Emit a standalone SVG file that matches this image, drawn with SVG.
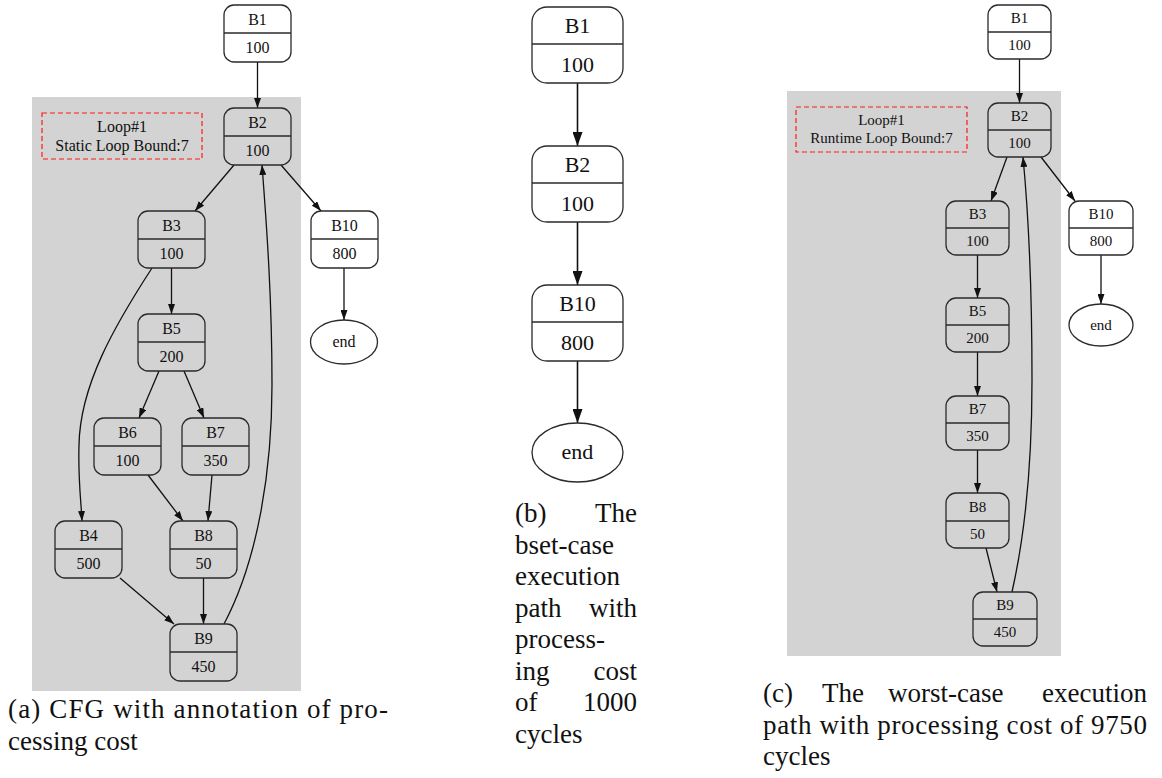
<svg xmlns="http://www.w3.org/2000/svg" width="1162" height="778" viewBox="0 0 1162 778">
  <style>
    .bg { fill: #ffffff; }
    .cluster { fill: #d3d3d3; }
    .box { fill: #ffffff; stroke: #2a2a2a; stroke-width: 1.3; }
    .box.in { fill: #d3d3d3; }
    .div { stroke: #2a2a2a; stroke-width: 1.3; }
    .lbl { font-family: "Liberation Serif", "Times New Roman", serif; fill: #111; text-anchor: middle; }
    .fa { font-size: 16px; }
    .fb { font-size: 22px; }
    .fc { font-size: 15px; }
    .note { fill: none; stroke: #ff1a1a; stroke-width: 1.2; stroke-dasharray: 5 3; }
    .edge { fill: none; stroke: #111; stroke-width: 1.3; }
    .edge.s { marker-end: url(#arrS); }
    .edge.l { stroke-width: 1.6; marker-end: url(#arrL); }
    .cap { font-family: "Liberation Serif", "Times New Roman", serif; font-size: 27px; fill: #111; }
  </style>
  <defs>
    <marker id="arrS" viewBox="0 0 10 7" refX="10" refY="3.5" markerWidth="10" markerHeight="7" markerUnits="userSpaceOnUse" orient="auto">
      <path d="M0,0 L10,3.5 L0,7 z" fill="#111"/>
    </marker>
    <marker id="arrL" viewBox="0 0 14 10" refX="14" refY="5" markerWidth="14" markerHeight="10" markerUnits="userSpaceOnUse" orient="auto">
      <path d="M0,0 L14,5 L0,10 z" fill="#111"/>
    </marker>
  </defs>

  <rect class="bg" x="0" y="0" width="1162" height="778"/>

  <!-- (a) full control-flow graph -->
  <g id="a-cluster">
    <rect class="cluster" x="32" y="97" width="269" height="594"/>
  </g>
  <g id="a-loop-note">
    <rect class="note" x="42" y="113" width="160" height="46"/>
    <text class="lbl fa" x="122" y="132">Loop#1</text>
    <text class="lbl fa" x="122" y="151">Static Loop Bound:7</text>
  </g>

  <g id="a-edges">
    <path class="edge s" d="M257.5,62 L257.5,108"/>
    <path class="edge s" d="M234,165 L195,211"/>
    <path class="edge s" d="M281,165 L321,211"/>
    <path class="edge s" d="M171.5,268 L171.5,314"/>
    <path class="edge s" d="M152,268 C115,325 80,385 79,445 C78,480 81,500 82,521"/>
    <path class="edge s" d="M159,371 L139,418"/>
    <path class="edge s" d="M184,371 L204,418"/>
    <path class="edge s" d="M148,475 L183,521"/>
    <path class="edge s" d="M212,475 L208,521"/>
    <path class="edge s" d="M120,578 L174,624"/>
    <path class="edge s" d="M203.5,578 L203.5,624"/>
    <path class="edge s" d="M224,624 C258,560 272,470 272,385 C272,300 267,230 262,165"/>
    <path class="edge s" d="M344,268 L344,320"/>
  </g>

  <g id="a-B1"><rect class="box" x="224" y="5" width="67" height="57" rx="10"/><line class="div" x1="224" y1="33" x2="291" y2="33"/><text class="lbl fa" x="257.5" y="25">B1</text><text class="lbl fa" x="257.5" y="53">100</text></g>
  <g id="a-B2"><rect class="box in" x="224" y="108" width="67" height="57" rx="10"/><line class="div" x1="224" y1="136" x2="291" y2="136"/><text class="lbl fa" x="257.5" y="128">B2</text><text class="lbl fa" x="257.5" y="156">100</text></g>
  <g id="a-B3"><rect class="box in" x="138" y="211" width="67" height="57" rx="10"/><line class="div" x1="138" y1="239" x2="205" y2="239"/><text class="lbl fa" x="171.5" y="231">B3</text><text class="lbl fa" x="171.5" y="259">100</text></g>
  <g id="a-B10"><rect class="box" x="311" y="211" width="67" height="57" rx="10"/><line class="div" x1="311" y1="239" x2="378" y2="239"/><text class="lbl fa" x="344.5" y="231">B10</text><text class="lbl fa" x="344.5" y="259">800</text></g>
  <g id="a-end"><ellipse class="box" cx="344" cy="342" rx="33.5" ry="22"/><text class="lbl fa" x="344" y="347">end</text></g>
  <g id="a-B5"><rect class="box in" x="138" y="314" width="67" height="57" rx="10"/><line class="div" x1="138" y1="342" x2="205" y2="342"/><text class="lbl fa" x="171.5" y="334">B5</text><text class="lbl fa" x="171.5" y="362">200</text></g>
  <g id="a-B6"><rect class="box in" x="94" y="418" width="67" height="57" rx="10"/><line class="div" x1="94" y1="446" x2="161" y2="446"/><text class="lbl fa" x="127.5" y="438">B6</text><text class="lbl fa" x="127.5" y="466">100</text></g>
  <g id="a-B7"><rect class="box in" x="182" y="418" width="67" height="57" rx="10"/><line class="div" x1="182" y1="446" x2="249" y2="446"/><text class="lbl fa" x="215.5" y="438">B7</text><text class="lbl fa" x="215.5" y="466">350</text></g>
  <g id="a-B4"><rect class="box in" x="55" y="521" width="67" height="57" rx="10"/><line class="div" x1="55" y1="549" x2="122" y2="549"/><text class="lbl fa" x="88.5" y="541">B4</text><text class="lbl fa" x="88.5" y="569">500</text></g>
  <g id="a-B8"><rect class="box in" x="170" y="521" width="67" height="57" rx="10"/><line class="div" x1="170" y1="549" x2="237" y2="549"/><text class="lbl fa" x="203.5" y="541">B8</text><text class="lbl fa" x="203.5" y="569">50</text></g>
  <g id="a-B9"><rect class="box in" x="170" y="624" width="67" height="57" rx="10"/><line class="div" x1="170" y1="652" x2="237" y2="652"/><text class="lbl fa" x="203.5" y="644">B9</text><text class="lbl fa" x="203.5" y="672">450</text></g>

  <g id="a-caption">
    <text class="cap" x="8" y="718" textLength="380" lengthAdjust="spacing">(a) CFG with annotation of pro-</text>
    <text class="cap" x="8" y="750">cessing cost</text>
  </g>

  <!-- (b) best-case path -->
  <g id="b-edges">
    <path class="edge l" d="M577.5,83 L577.5,146"/>
    <path class="edge l" d="M577.5,222 L577.5,285"/>
    <path class="edge l" d="M577.5,361 L577.5,423"/>
  </g>
  <g id="b-B1"><rect class="box" x="532" y="7" width="91" height="76" rx="15"/><line class="div" x1="532" y1="44" x2="623" y2="44"/><text class="lbl fb" x="577.5" y="33">B1</text><text class="lbl fb" x="577.5" y="72">100</text></g>
  <g id="b-B2"><rect class="box" x="532" y="146" width="91" height="76" rx="15"/><line class="div" x1="532" y1="183" x2="623" y2="183"/><text class="lbl fb" x="577.5" y="172">B2</text><text class="lbl fb" x="577.5" y="211">100</text></g>
  <g id="b-B10"><rect class="box" x="532" y="285" width="91" height="76" rx="15"/><line class="div" x1="532" y1="322" x2="623" y2="322"/><text class="lbl fb" x="577.5" y="311">B10</text><text class="lbl fb" x="577.5" y="350">800</text></g>
  <g id="b-end"><ellipse class="box" cx="577.5" cy="452.5" rx="45.5" ry="29.5"/><text class="lbl fb" x="577.5" y="459">end</text></g>

  <g id="b-caption">
    <text class="cap" x="515" y="522">(b)</text><text class="cap" x="637" y="522" text-anchor="end">The</text>
    <text class="cap" x="515" y="553.5">bset-case</text>
    <text class="cap" x="515" y="585">execution</text>
    <text class="cap" x="515" y="616.5">path</text><text class="cap" x="637" y="616.5" text-anchor="end">with</text>
    <text class="cap" x="515" y="648">process-</text>
    <text class="cap" x="515" y="679.5">ing</text><text class="cap" x="637" y="679.5" text-anchor="end">cost</text>
    <text class="cap" x="515" y="711">of</text><text class="cap" x="637" y="711" text-anchor="end">1000</text>
    <text class="cap" x="515" y="742.5">cycles</text>
  </g>

  <!-- (c) worst-case path -->
  <g id="c-cluster">
    <rect class="cluster" x="787" y="91" width="274" height="565"/>
  </g>
  <g id="c-loop-note">
    <rect class="note" x="796" y="107" width="171" height="45"/>
    <text class="lbl fc" x="881.5" y="125">Loop#1</text>
    <text class="lbl fc" x="881.5" y="143">Runtime Loop Bound:7</text>
  </g>

  <g id="c-edges">
    <path class="edge s" d="M1019.5,59 L1019.5,103"/>
    <path class="edge s" d="M1007,157 L991,201"/>
    <path class="edge s" d="M1041,157 L1075,201"/>
    <path class="edge s" d="M977.5,255 L977.5,298"/>
    <path class="edge s" d="M977.5,352 L977.5,396"/>
    <path class="edge s" d="M977.5,450 L977.5,493"/>
    <path class="edge s" d="M986,548 L997,592"/>
    <path class="edge s" d="M1012,592 C1026,530 1032,460 1032,380 C1032,290 1029,220 1023,157"/>
    <path class="edge s" d="M1101,255 L1101,304"/>
  </g>

  <g id="c-B1"><rect class="box" x="988" y="5" width="63" height="54" rx="10"/><line class="div" x1="988" y1="32" x2="1051" y2="32"/><text class="lbl fc" x="1019.5" y="23">B1</text><text class="lbl fc" x="1019.5" y="50">100</text></g>
  <g id="c-B2"><rect class="box in" x="988" y="103" width="63" height="54" rx="10"/><line class="div" x1="988" y1="130" x2="1051" y2="130"/><text class="lbl fc" x="1019.5" y="121">B2</text><text class="lbl fc" x="1019.5" y="148">100</text></g>
  <g id="c-B3"><rect class="box in" x="946" y="201" width="63" height="54" rx="10"/><line class="div" x1="946" y1="228" x2="1009" y2="228"/><text class="lbl fc" x="977.5" y="219">B3</text><text class="lbl fc" x="977.5" y="246">100</text></g>
  <g id="c-B10"><rect class="box" x="1069" y="201" width="64" height="54" rx="10"/><line class="div" x1="1069" y1="228" x2="1133" y2="228"/><text class="lbl fc" x="1101" y="219">B10</text><text class="lbl fc" x="1101" y="246">800</text></g>
  <g id="c-end"><ellipse class="box" cx="1101" cy="325" rx="32" ry="21"/><text class="lbl fc" x="1101" y="330">end</text></g>
  <g id="c-B5"><rect class="box in" x="946" y="298" width="63" height="54" rx="10"/><line class="div" x1="946" y1="325" x2="1009" y2="325"/><text class="lbl fc" x="977.5" y="316">B5</text><text class="lbl fc" x="977.5" y="343">200</text></g>
  <g id="c-B7"><rect class="box in" x="946" y="396" width="63" height="54" rx="10"/><line class="div" x1="946" y1="423" x2="1009" y2="423"/><text class="lbl fc" x="977.5" y="414">B7</text><text class="lbl fc" x="977.5" y="441">350</text></g>
  <g id="c-B8"><rect class="box in" x="946" y="493" width="63" height="55" rx="10"/><line class="div" x1="946" y1="521" x2="1009" y2="521"/><text class="lbl fc" x="977.5" y="512">B8</text><text class="lbl fc" x="977.5" y="539">50</text></g>
  <g id="c-B9"><rect class="box in" x="973" y="592" width="64" height="54" rx="10"/><line class="div" x1="973" y1="619" x2="1037" y2="619"/><text class="lbl fc" x="1005" y="610">B9</text><text class="lbl fc" x="1005" y="637">450</text></g>

  <g id="c-caption">
    <text class="cap" x="763" y="702">(c)</text>
    <text class="cap" x="822" y="702">The</text>
    <text class="cap" x="888" y="702">worst-case</text>
    <text class="cap" x="1147" y="702" text-anchor="end">execution</text>
    <text class="cap" x="763" y="734" textLength="384" lengthAdjust="spacing">path with processing cost of 9750</text>
    <text class="cap" x="763" y="765">cycles</text>
  </g>
</svg>
